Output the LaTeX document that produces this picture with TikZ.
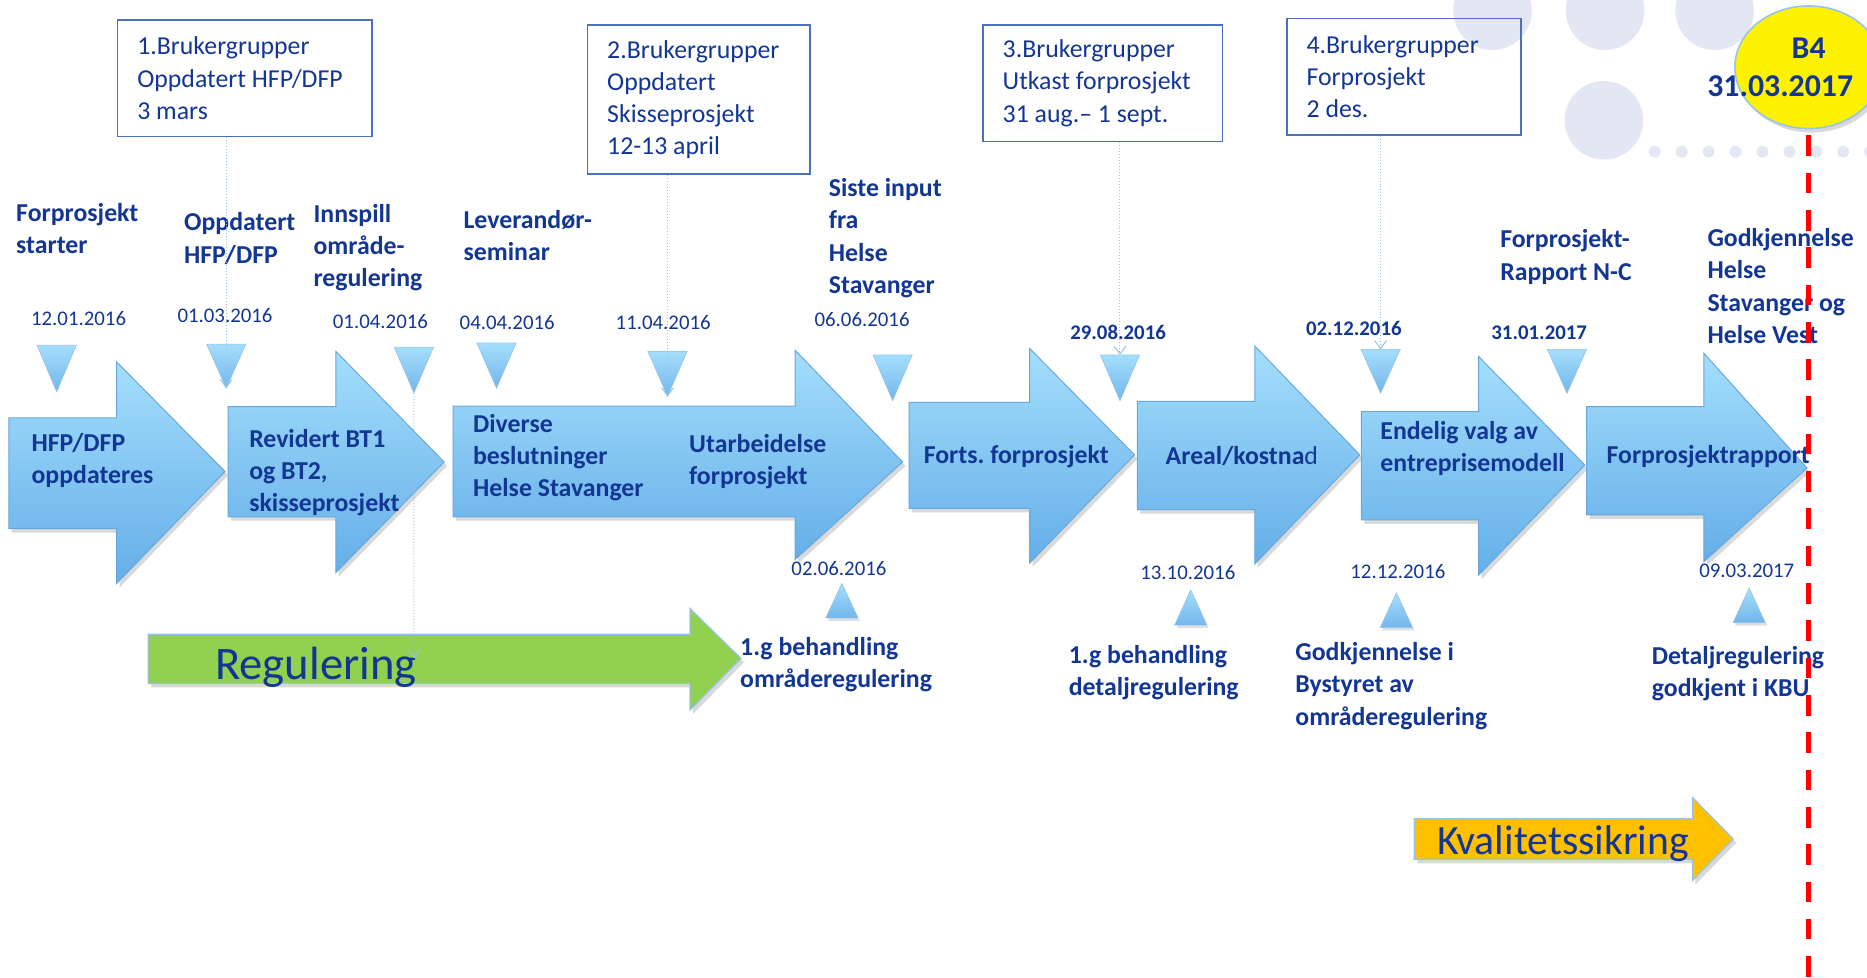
\documentclass[tikz,border=0pt]{standalone}
\usepackage{fontspec}
\setmainfont{Carlito}
\usepackage{tikz}
\usetikzlibrary{shapes.geometric,shadows,arrows.meta}
\definecolor{txtblue}{RGB}{18,54,146}
\definecolor{arrtop}{RGB}{164,222,252}
\definecolor{arrbot}{RGB}{100,174,232}
\definecolor{arredge}{RGB}{104,168,222}
\definecolor{boxedge}{RGB}{74,112,190}
\definecolor{connblue}{RGB}{150,196,236}
\definecolor{reggreen}{RGB}{146,208,80}
\definecolor{kvorange}{RGB}{255,192,0}
\definecolor{deco}{RGB}{227,231,243}
\frenchspacing

\tikzset{
  lbl/.style={anchor=base west, align=left, inner sep=0pt, text=txtblue, font=\bfseries\fontsize{13}{16.2}\selectfont},
  dato/.style={anchor=base, inner sep=0pt, text=txtblue, font=\fontsize{10.5}{12}\selectfont},
  datob/.style={dato, font=\bfseries\fontsize{10.5}{12}\selectfont},
  gruppe/.style={draw=boxedge, line width=0.8pt, anchor=north west, align=flush left, inner xsep=10pt, text=txtblue, font=\fontsize{13}{16.2}\selectfont},
  bigarrow/.style={draw=arredge, line width=0.5pt, top color=arrtop, bottom color=arrbot, drop shadow={opacity=0.3, shadow xshift=1.5pt, shadow yshift=-2pt}},
  tri/.style={draw=arredge!70, line width=0.3pt, top color=arrtop, bottom color=arrbot!90},
  conn/.style={draw=connblue, densely dotted, line width=0.5pt, -{Straight Barb[length=4pt,width=6pt]}},
  bigtxt/.style={anchor=base west, inner sep=0pt, text=txtblue, font=\fontsize{21}{24}\selectfont}
}

\begin{document}
\begin{tikzpicture}[x=0.6pt,y=-0.6pt]
\useasboundingbox (0,0) rectangle (1568,821);

% bakgrunn
\fill[deco] (1253.5,9) circle (33);
\fill[deco] (1348,9) circle (33);
\fill[deco] (1440,9) circle (33);
\fill[deco] (1347,101) circle (33);
\foreach \i in {0,...,8}
  \fill[deco] (1389.8+22.6*\i,127.4) circle (5);

% brukergrupper
\node[gruppe, text width=108.4pt, minimum height=58.8pt] (box1) at (98,16) {1.Brukergrupper\\Oppdatert HFP/DFP\\3 mars};
\node[gruppe, text width=92.2pt, minimum height=75.1pt] (box2) at (492.6,20.4) {2.Brukergrupper\\Oppdatert\\Skisseprosjekt\\12-13 april};
\node[gruppe, text width=100.8pt, minimum height=58.6pt] (box3) at (824.8,20.4) {3.Brukergrupper\\Utkast forprosjekt\\31 aug.– 1 sept.};
\node[gruppe, text width=98pt, minimum height=58.8pt] (box4) at (1080,14.8) {4.Brukergrupper\\Forprosjekt\\2 des.};

% B4
\node[ellipse, draw=connblue, line width=0.8pt, fill=yellow, minimum width=74.4pt, minimum height=61.8pt, inner sep=0pt,
  drop shadow={opacity=0.3, shadow xshift=1.5pt, shadow yshift=-2pt}] (b4circ) at (1519,56.5) {};
\node[anchor=base, inner sep=0pt, text=txtblue, font=\bfseries\fontsize{16}{19}\selectfont] (b4a) at (1519,49) {B4};
\node[anchor=base west, inner sep=0pt, text=txtblue, font=\bfseries\fontsize{16}{19}\selectfont] (b4b) at (1433.6,81.2) {31.03.2017};

% faser
\path[bigarrow] (7.5,351) -- (98,351) -- (98,304) -- (189,396) -- (98,490) -- (98,444) -- (7.5,444) -- cycle;
\path[bigarrow] (191.5,341.5) -- (282,341.5) -- (282,295) -- (373,388) -- (282,481) -- (282,434) -- (191.5,434) -- cycle;
\path[bigarrow] (380.5,341) -- (667.7,341) -- (667.7,294) -- (758,388) -- (667.7,470) -- (667.7,434) -- (380.5,434) -- cycle;
\path[bigarrow] (763.6,338) -- (864.7,338) -- (864.7,292.6) -- (952.8,382) -- (864.7,473) -- (864.7,427) -- (763.6,427) -- cycle;
\path[bigarrow] (955.3,337) -- (1053.8,337) -- (1053.8,290.6) -- (1142,382) -- (1053.8,473.7) -- (1053.8,428) -- (955.3,428) -- cycle;
\path[bigarrow] (1143.4,345.7) -- (1241.9,345.7) -- (1241.9,299.5) -- (1331,390.5) -- (1241.9,482.9) -- (1241.9,436.7) -- (1143.4,436.7) -- cycle;
\path[bigarrow] (1332.6,341.5) -- (1431,341.5) -- (1431,296.7) -- (1517.6,393) -- (1431,471.7) -- (1431,432.5) -- (1332.6,432.5) -- cycle;

\path[draw=connblue, line width=0.6pt, fill=reggreen, drop shadow={opacity=0.3, shadow xshift=1.5pt, shadow yshift=-2pt}]
  (124.4,532.7) -- (579.5,532.7) -- (579.5,511) -- (622.3,553) -- (579.5,596.3) -- (579.5,574) -- (124.4,574) -- cycle;
\path[draw=connblue, line width=0.6pt, fill=kvorange, drop shadow={opacity=0.3, shadow xshift=1.5pt, shadow yshift=-2pt}]
  (1187.8,687.6) -- (1421.3,687.6) -- (1421.3,669.6) -- (1455.6,704.6) -- (1421.3,739.6) -- (1421.3,721.7) -- (1187.8,721.7) -- cycle;

% milepaeler
\foreach \n/\x/\ya/\yb in {t1/47.6/290/329, t2/190/289/326, t3/347.6/291.6/330, t4/417/288/326, t5/560.6/295/333,
    t6/749.7/298/336.5, t7/940.6/298/336.5, t8/1159.5/293.4/330.3, t9/1316/293.4/330.3} {
  \path[tri] (\x-16.5,\ya) -- (\x+16.5,\ya) -- (\x,\yb) -- cycle;
  \coordinate (\n) at (\x,\ya);
  \coordinate (\n-tip) at (\x,\yb);
}
\foreach \n/\x/\ya/\yb in {u1/707/490/519, u2/1000/495.5/525, u3/1172.7/498/527, u4/1469/494/523} {
  \path[tri, drop shadow={opacity=0.25, shadow xshift=1pt, shadow yshift=-1.5pt}] (\x,\ya) -- (\x+13.5,\yb) -- (\x-13.5,\yb) -- cycle;
  \coordinate (\n) at (\x,\ya);
}

% datoer
\node[dato] (d1) at (66,273) {12.01.2016};
\node[dato] (d2) at (189,271) {01.03.2016};
\node[dato] (d3) at (319.5,276) {01.04.2016};
\node[dato] (d4) at (426,277) {04.04.2016};
\node[dato] (d5) at (557,277) {11.04.2016};
\node[dato] (d6) at (724,274.6) {06.06.2016};
\node[datob] (d7) at (939,285.5) {29.08.2016};
\node[datob] (d8) at (1137,282) {02.12.2016};
\node[datob] (d9) at (1292.7,285) {31.01.2017};
\node[dato] (e1) at (704.6,483) {02.06.2016};
\node[dato] (e2) at (997.6,487) {13.10.2016};
\node[dato] (e3) at (1174,485.7) {12.12.2016};
\node[dato] (e4) at (1467,485) {09.03.2017};

% tekst over (base = siste linje)
\node[lbl] (lstart) at (13.3,212.8) {Forprosjekt\\starter};
\node[lbl] (loppd) at (154.3,221) {Oppdatert\\HFP/DFP};
\node[lbl] (linnspill) at (263,240.8) {Innspill\\område-\\regulering};
\node[lbl] (llev) at (389,219) {Leverandør-\\seminar};
\node[lbl] (lsiste) at (695.8,246.3) {Siste input\\fra\\Helse\\Stavanger};
\node[lbl] (lrapport) at (1259.7,235.2) {Forprosjekt-\\Rapport N-C};
\node[lbl] (lgodkj) at (1433.7,288.3) {Godkjennelse\\Helse\\Stavanger og\\Helse Vest};

% tekst i pilene
\node[lbl] (a1txt) at (26.2,406) {HFP/DFP\\oppdateres};
\node[lbl] (a2txt) at (209,429.7) {Revidert BT1\\og BT2,\\skisseprosjekt};
\node[lbl] (a3txt) at (397,417) {Diverse\\beslutninger\\Helse Stavanger};
\node[lbl] (a3btxt) at (578.5,407.3) {Utarbeidelse\\forprosjekt};
\node[lbl] (a4txt) at (775.5,389) {Forts. forprosjekt};
\node[lbl] (a5txt) at (978.7,390.5) {Areal/kostna{\mdseries d}};
\node[lbl] (a6txt) at (1159,396) {Endelig valg av\\entreprisemodell};
\node[lbl] (a7txt) at (1349,389) {Forprosjektrapport};

% tekst under
\node[lbl] (lbeh1) at (621.3,577.2) {1.g behandling\\områderegulering};
\node[lbl] (lbeh2) at (897.3,584.5) {1.g behandling\\detaljregulering};
\node[lbl] (lbystyre) at (1087.6,608.9) {Godkjennelse i\\Bystyret av\\områderegulering};
\node[lbl] (ldetalj) at (1387,585) {Detaljregulering\\godkjent i KBU};

\node[bigtxt, font=\fontsize{23.5}{27}\selectfont] (regtxt) at (180.4,571) {Regulering};
\node[bigtxt] (kvtxt) at (1206.6,718) {Kvalitetssikring};

% forbindelser
\coordinate (regend) at (347.7,553);
\draw[conn] (box1.south -| t2) -- (t2-tip);
\draw[conn] (box2.south -| t5) -- (t5-tip);
\draw[conn] (box3.south -| t7) -- (t7);
\draw[conn] (box4.south -| t8) -- (t8);
\draw[conn] (t3-tip) -- (regend);

% B4-linje
\coordinate (bot) at (1519,821);
\draw[red, line width=2.7pt, dash pattern=on 10.4pt off 8.4pt] ([yshift=-3pt]b4circ.south) -- (bot);
\end{tikzpicture}
\end{document}
